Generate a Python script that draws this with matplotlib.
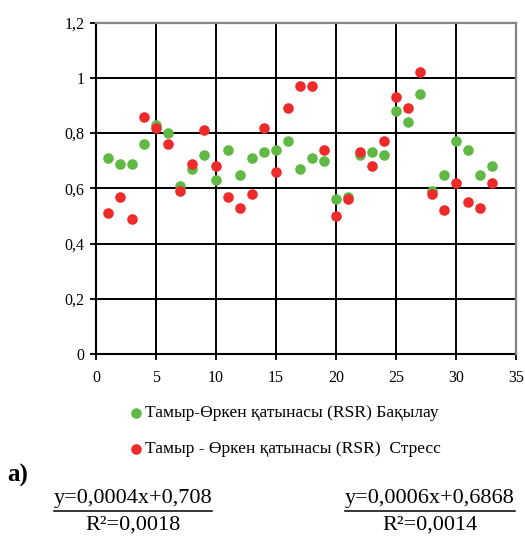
import numpy as np
import matplotlib
matplotlib.use('Agg')
import matplotlib.pyplot as plt
from matplotlib.lines import Line2D

plt.rcParams['font.family'] = ['Liberation Serif', 'DejaVu Serif']

# day number (1..33)
x_vals = list(range(1, 34))
control = [0.71, 0.69, 0.69, 0.76, 0.83, 0.80, 0.61, 0.67, 0.72, 0.63, 0.74,
           0.65, 0.71, 0.73, 0.74, 0.77, 0.67, 0.71, 0.70, 0.56, 0.57, 0.72,
           0.73, 0.72, 0.88, 0.84, 0.94, 0.59, 0.65, 0.77, 0.74, 0.65, 0.68]
stress = [0.51, 0.57, 0.49, 0.86, 0.82, 0.76, 0.59, 0.69, 0.81, 0.68, 0.57,
          0.53, 0.58, 0.82, 0.66, 0.89, 0.97, 0.97, 0.74, 0.50, 0.56, 0.73,
          0.68, 0.77, 0.93, 0.89, 1.02, 0.58, 0.52, 0.62, 0.55, 0.53, 0.62]
label_control = 'Тамыр-Өркен қатынасы (RSR) Бақылау'
label_stress = 'Тамыр - Өркен қатынасы (RSR)  Стресс'
eq_control = ['y=0,0004x+0,708', 'R²=0,0018']
eq_stress = ['y=0,0006x+0,6868', 'R²=0,0014']

green = '#5fb944'
red = '#ee2b2b'

fig = plt.figure(figsize=(5.25, 5.36), dpi=100)
ax = fig.add_axes([96/525, 1-354/536, 420/525, 331.3/536])

ax.scatter(x_vals, control, s=58, color=green, zorder=3, linewidths=0, label=label_control)
ax.scatter(x_vals, stress, s=58, color=red, zorder=4, linewidths=0, label=label_stress)

ax.set_xlim(0, 35)
ax.set_ylim(0, 1.2)
ax.set_xticks(np.arange(0, 36, 5))
ax.set_yticks(np.arange(0, 1.21, 0.2))
ax.yaxis.set_major_formatter(plt.FuncFormatter(lambda v, p: ('%g' % round(v, 2)).replace('.', ',')))
ax.grid(True, color='black', linewidth=1.4, zorder=1)
ax.set_axisbelow(True)
for s in ['left', 'bottom']:
    ax.spines[s].set_color('black')
    ax.spines[s].set_linewidth(1.5)
    ax.spines[s].set_zorder(2)
for s in ['top', 'right']:
    ax.spines[s].set_color('#858585')
    ax.spines[s].set_linewidth(1.6)
ax.tick_params(axis='both', direction='out', length=4.5, width=1.3, labelsize=11.5, colors='black')
ax.tick_params(axis='x', pad=7)
ax.tick_params(axis='y', pad=4)

fig.legend(loc='upper left', bbox_to_anchor=(127/525, 1-405/536), frameon=False,
           fontsize=12.6, handletextpad=0.05, handlelength=1.0, labelspacing=1.12,
           borderpad=0, borderaxespad=0, markerscale=1.0)

fig.text(7/525, 1-475/536, 'а)', fontsize=18, fontweight='bold', va='center', ha='left')

fig.canvas.draw()
r = fig.canvas.get_renderer()
for cx, eq in [(133, eq_control), (430, eq_stress)]:
    t1 = fig.text(cx/525, 1-498/536, eq[0], fontsize=16, ha='center', va='center')
    fig.text(cx/525, 1-525/536, eq[1], fontsize=16, ha='center', va='center')
    bb = t1.get_window_extent(r).transformed(fig.transFigure.inverted())
    fig.add_artist(Line2D([bb.x0, bb.x1], [1-511/536, 1-511/536], color='black',
                          linewidth=1.1, transform=fig.transFigure))

fig.savefig('out.png', dpi=100)
